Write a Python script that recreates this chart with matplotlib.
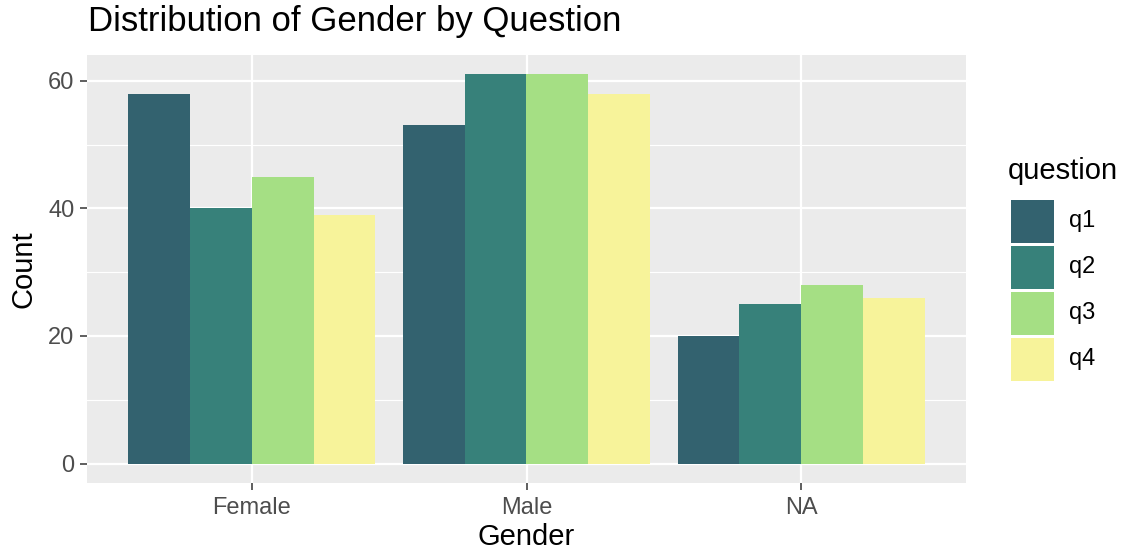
import matplotlib
matplotlib.use("Agg")
import matplotlib.pyplot as plt
from matplotlib.patches import Rectangle
import numpy as np

plt.rcParams["font.family"] = ["Liberation Sans", "DejaVu Sans"]

categories = ["Female", "Male", "NA"]
questions = ["q1", "q2", "q3", "q4"]
q1 = [58, 53, 20]
q2 = [40, 61, 25]
q3 = [45, 61, 28]
q4 = [39, 58, 26]
series = [q1, q2, q3, q4]
colors = ["#33626f", "#37817a", "#a5df84", "#f7f39a"]

W, H = 1125, 554
fig = plt.figure(figsize=(W / 100, H / 100), dpi=100)
L, R, T, B = 87, 966, 55, 483
ax = fig.add_axes([L / W, 1 - B / H, (R - L) / W, (B - T) / H])
ax.set_facecolor("#ebebeb")
for s in ax.spines.values():
    s.set_visible(False)

x = np.arange(1, len(categories) + 1)
bw = 0.9 / len(questions)
for i, (vals, c) in enumerate(zip(series, colors)):
    ax.bar(x - 0.45 + bw * (i + 0.5), vals, width=bw, color=c, zorder=3, linewidth=0)

ax.set_xlim(0.4, 3.6)
ax.set_ylim(-3.05, 64.05)
ax.set_xticks(x)
ax.set_xticklabels(categories)
ax.set_yticks([0, 20, 40, 60])
ax.set_yticks([10, 30, 50], minor=True)
ax.grid(True, which="major", color="white", linewidth=1.6, zorder=1)
ax.grid(True, which="minor", axis="y", color="white", linewidth=0.8, zorder=1)
ax.tick_params(axis="both", which="major", length=5, width=1.1, color="#333333",
               labelsize=17, labelcolor="#4d4d4d", pad=4)
ax.tick_params(axis="x", which="major", pad=5)
ax.tick_params(axis="both", which="minor", length=0)
ax.set_xlabel("Gender", fontsize=21, labelpad=3)
ax.set_ylabel("Count", fontsize=21, labelpad=8)
fig.text(88 / W, 1 - 22 / H, "Distribution of Gender by Question", fontsize=25,
         ha="left", va="center")

# legend
fig.text(1008 / W, 1 - 171 / H, "question", fontsize=21, ha="left", va="center")
key_w, key_h = 43, 43
for i, (q, c) in enumerate(zip(questions, colors)):
    cy = 221 + 46 * i
    fig.add_artist(Rectangle(((1011) / W, 1 - (cy + key_h / 2) / H), key_w / W, key_h / H,
                             transform=fig.transFigure, facecolor=c, edgecolor="none"))
    fig.text(1069 / W, 1 - cy / H, q, fontsize=17, ha="left", va="center")

fig.savefig("out.png", dpi=100)
